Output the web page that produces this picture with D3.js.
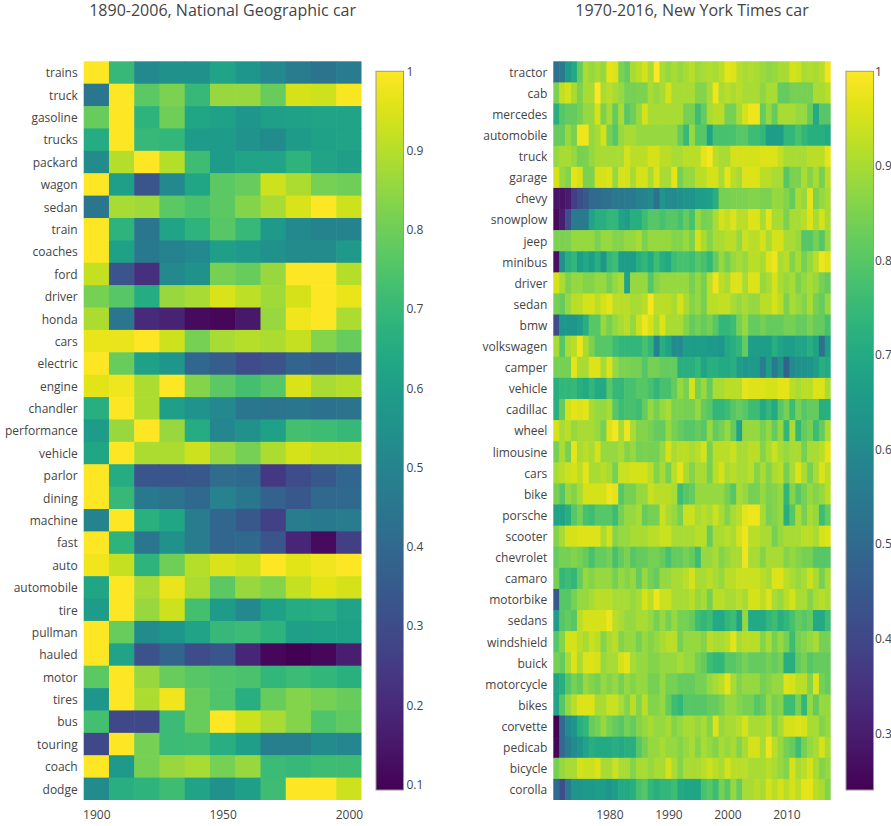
<!DOCTYPE html>
<html><head><meta charset="utf-8">
<script src="https://cdn.jsdelivr.net/npm/d3@7"></script>
<style>
body{margin:0;background:#fff;}
text{font-family:"Open Sans",sans-serif;}
</style>
</head><body>
<svg id="chart" width="891" height="826"></svg>
<script>
// ---------------- DATA ----------------
const ngTitle = "1890-2006, National Geographic car";
const ngWords = ["trains","truck","gasoline","trucks","packard","wagon","sedan","train","coaches","ford","driver","honda","cars","electric","engine","chandler","performance","vehicle","parlor","dining","machine","fast","auto","automobile","tire","pullman","hauled","motor","tires","bus","touring","coach","dodge"];
const ngYears = [1900,1910,1920,1930,1940,1950,1960,1970,1980,1990,2000];
const ngXTicks = [1900,1950,2000];
const ngValues = [
[1.0,0.7,0.52,0.55,0.55,0.62,0.57,0.52,0.47,0.44,0.47],
[0.45,1.0,0.77,0.82,0.7,0.86,0.86,0.79,0.94,0.93,0.99],
[0.79,1.0,0.68,0.8,0.63,0.61,0.57,0.6,0.61,0.62,0.62],
[0.65,1.0,0.7,0.69,0.59,0.59,0.56,0.53,0.59,0.61,0.62],
[0.53,0.9,1.0,0.9,0.72,0.59,0.62,0.62,0.68,0.62,0.6],
[1.0,0.6,0.33,0.52,0.63,0.77,0.79,0.93,0.89,0.81,0.8],
[0.45,0.88,0.87,0.77,0.74,0.77,0.83,0.88,0.95,1.0,0.93],
[1.0,0.68,0.45,0.62,0.68,0.76,0.7,0.58,0.52,0.5,0.5],
[1.0,0.61,0.46,0.49,0.52,0.6,0.58,0.55,0.53,0.53,0.58],
[0.92,0.33,0.22,0.52,0.55,0.81,0.79,0.86,1.0,1.0,0.9],
[0.81,0.76,0.65,0.86,0.88,0.95,0.91,0.87,0.94,1.0,0.97],
[0.89,0.45,0.2,0.18,0.12,0.11,0.15,0.86,0.98,1.0,0.89],
[0.97,0.97,1.0,0.93,0.81,0.88,0.9,0.89,0.92,0.83,0.79],
[1.0,0.79,0.61,0.57,0.39,0.36,0.3,0.32,0.38,0.36,0.38],
[0.96,0.98,0.89,1.0,0.83,0.77,0.73,0.76,0.95,0.88,0.9],
[0.66,1.0,0.89,0.6,0.56,0.52,0.45,0.44,0.45,0.43,0.44],
[0.59,0.86,1.0,0.86,0.65,0.51,0.55,0.61,0.73,0.72,0.7],
[0.63,1.0,0.89,0.89,0.93,0.86,0.81,0.89,0.94,0.92,0.92],
[1.0,0.65,0.33,0.33,0.34,0.41,0.4,0.24,0.3,0.34,0.39],
[1.0,0.7,0.46,0.44,0.4,0.49,0.45,0.37,0.34,0.4,0.4],
[0.5,1.0,0.67,0.63,0.47,0.39,0.34,0.27,0.47,0.46,0.47],
[1.0,0.68,0.45,0.55,0.47,0.39,0.4,0.33,0.19,0.12,0.26],
[0.98,0.92,0.68,0.8,0.9,0.95,0.93,1.0,0.96,0.98,1.0],
[0.63,1.0,0.88,0.97,0.89,0.77,0.86,0.83,0.92,0.96,0.94],
[0.59,1.0,0.86,0.93,0.73,0.59,0.52,0.61,0.65,0.66,0.62],
[1.0,0.79,0.53,0.57,0.62,0.7,0.71,0.68,0.6,0.61,0.61],
[1.0,0.62,0.32,0.38,0.3,0.33,0.19,0.11,0.093,0.11,0.17],
[0.77,1.0,0.86,0.79,0.76,0.75,0.74,0.69,0.71,0.69,0.67],
[0.57,1.0,0.89,0.98,0.79,0.75,0.66,0.79,0.83,0.81,0.79],
[0.73,0.29,0.29,0.71,0.79,1.0,0.93,0.88,0.83,0.75,0.78],
[0.29,1.0,0.81,0.71,0.72,0.66,0.6,0.48,0.48,0.53,0.51],
[1.0,0.58,0.81,0.86,0.88,0.81,0.86,0.71,0.7,0.72,0.72],
[0.53,0.66,0.68,0.72,0.62,0.55,0.6,0.72,1.0,1.0,0.93]
];
const ngColorTicks = [0.1,0.2,0.3,0.4,0.5,0.6,0.7,0.8,0.9,1];

const nytTitle = "1970-2016, New York Times car";
const nytWords = ["tractor","cab","mercedes","automobile","truck","garage","chevy","snowplow","jeep","minibus","driver","sedan","bmw","volkswagen","camper","vehicle","cadillac","wheel","limousine","cars","bike","porsche","scooter","chevrolet","camaro","motorbike","sedans","windshield","buick","motorcycle","bikes","corvette","pedicab","bicycle","corolla"];
const nytYears = [1971,1972,1973,1974,1975,1976,1977,1978,1979,1980,1981,1982,1983,1984,1985,1986,1987,1988,1989,1990,1991,1992,1993,1994,1995,1996,1997,1998,1999,2000,2001,2002,2003,2004,2005,2006,2007,2008,2009,2010,2011,2012,2013,2014,2015,2016,2017];
const nytXTicks = [1980,1990,2000,2010];
const nytValues = [
[0.52,0.55,0.65,0.7,0.82,0.9,0.88,0.9,0.88,0.97,0.96,0.85,0.82,0.9,0.92,0.95,0.9,1.0,0.9,0.88,0.9,0.88,0.9,0.92,0.89,0.9,0.91,0.9,0.92,0.97,0.96,0.92,0.9,0.91,0.9,0.89,0.87,0.88,0.9,0.9,0.95,0.94,0.9,0.91,0.9,0.92,0.98],
[0.85,0.93,0.95,0.9,0.85,0.9,0.9,1.0,0.9,0.92,0.9,0.88,0.84,0.84,0.85,0.85,0.9,0.88,0.9,0.95,0.9,0.9,0.9,0.9,0.86,0.86,0.9,0.98,0.9,0.92,0.9,0.92,0.9,0.9,0.9,0.87,0.9,0.9,0.82,0.82,0.84,0.84,0.84,0.84,0.9,0.9,0.92],
[0.72,0.8,0.82,0.82,0.84,0.88,0.88,0.95,0.85,0.9,0.82,0.9,0.8,0.83,0.88,0.95,0.9,0.9,0.9,0.9,0.9,0.9,0.84,0.84,0.76,0.82,0.9,0.92,0.92,0.84,0.84,0.9,0.95,0.98,0.98,0.82,0.88,0.82,0.9,0.9,0.9,0.88,0.88,0.82,0.7,0.8,0.8],
[0.82,0.82,0.88,0.84,0.98,0.98,0.88,0.9,0.95,0.84,0.8,0.88,0.9,0.9,0.88,0.88,0.88,0.88,0.88,0.88,0.88,0.82,0.75,0.88,0.8,0.8,0.68,0.78,0.78,0.78,0.78,0.8,0.8,0.76,0.76,0.74,0.66,0.66,0.66,0.74,0.74,0.78,0.74,0.72,0.72,0.72,0.7],
[0.88,0.9,0.9,0.88,0.84,0.85,0.88,0.9,0.9,0.9,0.9,0.9,0.95,0.92,0.92,0.92,0.95,0.95,0.92,0.92,0.9,0.9,0.92,0.92,0.92,0.97,0.99,0.92,0.9,0.9,0.95,0.95,0.95,0.95,0.95,0.96,0.96,0.96,0.93,0.9,0.9,0.9,0.9,0.92,0.92,0.92,0.97],
[0.95,0.88,0.86,0.97,0.95,0.85,0.85,0.95,0.95,0.96,0.88,0.95,0.95,0.9,0.95,0.95,0.9,0.96,0.9,0.9,0.97,0.84,0.88,0.88,0.92,0.92,0.95,0.95,0.9,0.97,0.92,0.9,0.96,0.96,0.96,0.92,0.92,0.9,0.9,0.8,0.85,0.85,0.9,0.86,0.9,0.84,0.92],
[0.28,0.28,0.3,0.38,0.42,0.45,0.5,0.5,0.52,0.52,0.54,0.54,0.55,0.55,0.58,0.58,0.6,0.52,0.64,0.6,0.6,0.62,0.63,0.63,0.66,0.66,0.67,0.72,0.84,0.84,0.85,0.85,0.85,0.86,0.86,0.85,0.85,0.88,0.88,0.86,0.82,0.9,0.88,0.97,0.85,0.88,0.9],
[0.26,0.3,0.42,0.55,0.55,0.55,0.68,0.72,0.72,0.74,0.74,0.68,0.66,0.72,0.72,0.76,0.8,0.8,0.78,0.8,0.8,0.78,0.82,0.78,0.88,0.84,0.85,0.9,0.95,0.93,0.96,0.92,0.92,0.96,0.96,0.9,0.97,0.9,0.9,0.85,0.9,0.9,0.92,0.96,0.9,0.95,0.9],
[0.85,0.85,0.85,0.88,0.88,0.88,0.88,0.85,0.88,0.88,0.86,0.86,0.88,0.88,0.9,0.85,0.88,0.88,0.88,0.88,0.86,0.86,0.88,0.85,0.95,0.9,0.86,0.9,0.9,0.92,0.92,0.88,0.94,0.92,0.92,0.95,0.9,0.95,0.95,0.9,0.9,0.88,0.8,0.8,0.84,0.8,0.88],
[0.27,0.62,0.72,0.74,0.66,0.7,0.66,0.72,0.64,0.74,0.76,0.66,0.66,0.66,0.72,0.74,0.7,0.76,0.72,0.7,0.76,0.78,0.78,0.76,0.8,0.78,0.74,0.82,0.88,0.84,0.88,0.9,0.88,0.92,0.92,0.9,0.96,0.98,0.9,0.92,0.86,0.9,0.84,0.88,0.92,0.98,0.96],
[0.95,0.9,0.85,0.88,0.88,0.86,0.86,0.88,0.88,0.84,0.88,0.9,0.68,0.88,0.88,0.88,0.8,0.86,0.88,0.88,0.88,0.88,0.88,0.84,0.88,0.84,0.92,0.98,0.92,0.9,0.96,0.96,0.9,0.96,0.96,0.88,0.9,0.95,0.9,0.88,0.9,0.85,0.88,0.9,0.88,0.84,0.82],
[0.84,0.82,0.88,0.92,0.92,0.95,0.95,0.92,0.95,0.97,0.92,0.92,0.92,0.9,0.9,0.92,0.99,0.92,0.92,0.92,0.9,0.95,0.9,0.86,0.88,0.84,0.92,0.92,0.93,0.93,0.9,0.88,0.9,0.88,0.88,0.92,0.92,0.95,0.92,0.85,0.9,0.88,0.86,0.9,0.84,0.82,0.88],
[0.42,0.64,0.64,0.64,0.66,0.72,0.8,0.8,0.88,0.84,0.88,0.9,0.92,0.88,0.94,0.98,0.95,0.9,0.96,0.9,0.9,0.9,0.86,0.82,0.84,0.82,0.84,0.8,0.74,0.74,0.76,0.84,0.88,0.82,0.82,0.84,0.82,0.82,0.82,0.84,0.84,0.82,0.82,0.85,0.82,0.82,0.78],
[0.9,0.8,0.9,0.92,0.98,0.9,0.85,0.8,0.8,0.8,0.76,0.74,0.74,0.74,0.74,0.78,0.74,0.58,0.72,0.68,0.6,0.6,0.66,0.66,0.66,0.66,0.65,0.65,0.64,0.7,0.72,0.74,0.82,0.66,0.66,0.66,0.66,0.72,0.68,0.66,0.66,0.68,0.68,0.72,0.68,0.52,0.66],
[0.84,0.84,0.84,0.97,0.9,0.9,0.96,0.96,0.9,0.96,0.88,0.85,0.85,0.84,0.84,0.8,0.84,0.84,0.82,0.82,0.82,0.72,0.72,0.72,0.74,0.68,0.72,0.72,0.7,0.7,0.72,0.66,0.64,0.65,0.65,0.56,0.66,0.55,0.62,0.48,0.6,0.62,0.62,0.63,0.66,0.72,0.7],
[0.72,0.74,0.74,0.75,0.72,0.7,0.74,0.7,0.7,0.8,0.75,0.74,0.78,0.78,0.8,0.8,0.78,0.74,0.78,0.78,0.82,0.88,0.84,0.95,0.84,0.88,0.82,0.9,0.9,0.92,0.92,0.92,0.97,0.96,0.96,0.96,0.95,0.95,0.97,0.97,0.92,0.9,0.92,0.92,0.96,0.96,0.9],
[0.72,0.82,0.95,0.97,0.96,0.97,0.9,0.88,0.88,0.9,0.8,0.76,0.78,0.78,0.76,0.82,0.88,0.84,0.88,0.9,0.85,0.85,0.84,0.84,0.88,0.82,0.8,0.74,0.74,0.76,0.8,0.82,0.8,0.76,0.76,0.7,0.74,0.7,0.8,0.84,0.76,0.84,0.8,0.82,0.82,0.72,0.72],
[0.95,0.9,0.92,0.88,0.9,0.9,0.9,0.88,0.84,0.96,0.99,0.9,0.98,0.9,0.86,0.86,0.84,0.82,0.82,0.88,0.84,0.82,0.8,0.8,0.82,0.8,0.88,0.82,0.84,0.88,0.82,0.68,0.88,0.88,0.88,0.84,0.88,0.82,0.88,0.74,0.9,0.74,0.82,0.84,0.76,0.82,0.9],
[0.84,0.9,0.84,0.97,0.9,0.92,0.9,0.95,0.88,0.88,0.88,0.9,0.86,0.88,0.84,0.85,0.84,0.84,0.88,0.95,0.9,0.92,0.92,0.9,0.92,0.95,0.84,0.92,0.92,0.92,0.94,0.9,0.9,0.92,0.92,0.86,0.9,0.94,0.9,0.88,0.9,0.9,0.84,0.9,0.9,0.92,0.97],
[0.9,0.92,0.94,0.95,0.92,0.97,0.9,0.9,0.92,0.9,0.84,0.94,0.94,0.95,0.95,0.95,0.92,0.86,0.9,0.84,0.92,0.97,0.9,0.86,0.9,0.9,0.84,0.92,0.95,0.9,0.92,0.9,0.9,0.92,0.86,0.9,0.86,0.9,0.92,0.84,0.9,0.96,0.9,0.84,0.9,0.96,0.92],
[0.84,0.8,0.88,0.86,0.9,0.95,0.95,0.95,0.95,0.98,0.97,0.8,0.84,0.84,0.88,0.88,0.94,0.92,0.92,0.92,0.9,0.76,0.8,0.82,0.88,0.88,0.88,0.88,0.88,0.84,0.8,0.9,0.88,0.84,0.84,0.88,0.85,0.86,0.88,0.74,0.86,0.8,0.84,0.88,0.86,0.88,0.92],
[0.68,0.68,0.72,0.8,0.84,0.78,0.76,0.8,0.8,0.8,0.76,0.84,0.88,0.88,0.9,0.82,0.84,0.84,0.94,0.9,0.88,0.84,0.94,0.94,0.9,0.92,0.9,0.94,0.9,0.86,0.9,0.92,0.97,0.98,0.98,0.9,0.84,0.86,0.88,0.72,0.8,0.9,0.84,0.9,0.88,0.76,0.82],
[0.86,0.9,0.95,0.95,0.96,0.96,0.96,0.96,0.9,0.95,0.86,0.88,0.88,0.9,0.9,0.9,0.92,0.92,0.94,0.94,0.9,0.9,0.9,0.9,0.92,0.92,0.82,0.9,0.9,0.92,0.9,0.95,0.98,0.92,0.92,0.9,0.9,0.84,0.88,0.9,0.9,0.9,0.92,0.92,0.9,0.95,0.96],
[0.82,0.84,0.84,0.86,0.84,0.82,0.78,0.82,0.82,0.84,0.78,0.82,0.85,0.8,0.82,0.82,0.84,0.84,0.82,0.78,0.82,0.82,0.84,0.82,0.76,0.88,0.88,0.9,0.86,0.88,0.9,0.9,0.98,0.9,0.9,0.86,0.9,0.9,0.9,0.86,0.88,0.86,0.84,0.84,0.8,0.8,0.8],
[0.84,0.74,0.76,0.74,0.82,0.88,0.86,0.88,0.88,0.88,0.84,0.88,0.86,0.88,0.82,0.88,0.84,0.82,0.88,0.88,0.9,0.9,0.92,0.95,0.9,0.9,0.92,0.9,0.88,0.92,0.92,0.94,0.94,0.94,0.94,0.92,0.9,0.96,0.96,0.92,0.9,0.88,0.9,0.94,0.9,0.84,0.9],
[0.45,0.8,0.8,0.84,0.88,0.88,0.9,0.92,0.92,0.92,0.9,0.9,0.9,0.88,0.9,0.95,0.92,0.98,0.94,0.94,0.9,0.9,0.9,0.92,0.88,0.9,0.84,0.92,0.92,0.9,0.9,0.92,0.9,0.95,0.95,0.92,0.96,0.9,0.88,0.92,0.95,0.9,0.9,0.86,0.9,0.92,0.9],
[0.66,0.8,0.82,0.8,0.92,0.95,0.95,0.95,0.95,0.98,0.92,0.9,0.88,0.88,0.9,0.9,0.88,0.84,0.88,0.84,0.88,0.84,0.84,0.82,0.76,0.74,0.76,0.7,0.7,0.74,0.76,0.68,0.88,0.7,0.7,0.7,0.74,0.76,0.72,0.74,0.78,0.82,0.8,0.82,0.7,0.7,0.76],
[0.8,0.86,0.95,0.95,0.92,0.9,0.94,0.92,0.86,0.9,0.92,0.86,0.88,0.88,0.84,0.88,0.86,0.88,0.9,0.92,0.92,0.84,0.88,0.88,0.88,0.86,0.92,0.9,0.9,0.92,0.97,0.9,0.92,0.92,0.92,0.86,0.9,0.84,0.88,0.84,0.76,0.84,0.86,0.88,0.9,0.84,0.84],
[0.84,0.82,0.9,0.96,0.9,0.96,0.96,0.95,0.88,0.9,0.9,0.95,0.97,0.9,0.88,0.88,0.86,0.86,0.88,0.88,0.88,0.9,0.88,0.88,0.84,0.82,0.76,0.74,0.74,0.8,0.8,0.82,0.84,0.82,0.82,0.82,0.84,0.82,0.84,0.72,0.72,0.82,0.84,0.8,0.82,0.82,0.82],
[0.68,0.72,0.8,0.84,0.82,0.88,0.86,0.84,0.88,0.86,0.88,0.84,0.88,0.86,0.88,0.88,0.84,0.84,0.88,0.84,0.84,0.82,0.82,0.82,0.84,0.84,0.88,0.9,0.92,0.97,0.9,0.86,0.88,0.88,0.88,0.84,0.86,0.88,0.88,0.96,0.95,0.92,0.92,0.86,0.96,0.84,0.82],
[0.68,0.8,0.88,0.92,0.96,0.96,0.96,0.9,0.9,0.94,0.94,0.9,0.86,0.92,0.86,0.92,0.86,0.86,0.88,0.82,0.76,0.74,0.8,0.8,0.8,0.8,0.82,0.82,0.84,0.88,0.88,0.86,0.84,0.84,0.8,0.82,0.88,0.84,0.86,0.76,0.76,0.84,0.74,0.88,0.82,0.88,0.88],
[0.24,0.5,0.6,0.64,0.72,0.74,0.82,0.84,0.88,0.84,0.82,0.8,0.84,0.82,0.86,0.88,0.9,0.88,0.88,0.9,0.86,0.88,0.9,0.9,0.88,0.9,0.86,0.96,0.88,0.9,0.9,0.92,0.95,0.9,0.9,0.9,0.92,0.86,0.9,0.95,0.95,0.96,0.95,0.9,0.9,0.86,0.88],
[0.25,0.5,0.56,0.6,0.64,0.68,0.72,0.7,0.7,0.7,0.72,0.7,0.72,0.72,0.8,0.84,0.88,0.88,0.9,0.88,0.88,0.86,0.88,0.9,0.86,0.9,0.88,0.86,0.9,0.88,0.9,0.86,0.9,0.95,0.95,0.9,0.98,0.92,0.88,0.84,0.82,0.76,0.84,0.88,0.9,0.95,0.9],
[0.84,0.88,0.9,0.9,0.95,0.94,0.94,0.96,0.9,0.9,0.94,0.9,0.9,0.86,0.9,0.9,0.88,0.9,0.9,0.95,0.9,0.86,0.9,0.9,0.9,0.92,0.94,0.92,0.9,0.95,0.92,0.92,0.92,0.9,0.9,0.9,0.92,0.9,0.88,0.86,0.95,0.9,0.92,0.95,0.9,0.86,0.88],
[0.5,0.42,0.55,0.64,0.64,0.65,0.65,0.66,0.66,0.64,0.66,0.7,0.7,0.72,0.78,0.8,0.74,0.72,0.74,0.74,0.76,0.7,0.69,0.69,0.69,0.78,0.8,0.76,0.84,0.8,0.88,0.82,0.9,0.9,0.92,0.9,0.95,0.92,0.95,0.92,0.95,0.92,0.97,0.97,0.92,0.9,0.86]
];
const nytColorTicks = [0.3,0.4,0.5,0.6,0.7,0.8,0.9,1];

// ---------------- DRAWING ----------------
const svg = d3.select("#chart");
const textColor = "#444";

function drawPanel(cfg) {
  const g = svg.append("g");
  const x = d3.scaleLinear()
    .domain([cfg.years[0] - cfg.step / 2, cfg.years[cfg.years.length - 1] + cfg.step / 2])
    .range([cfg.left, cfg.right]);
  const y = d3.scaleBand().domain(cfg.words).range([cfg.top, cfg.bottom]);
  const ext = d3.extent(cfg.values.flat());
  const color = d3.scaleSequential(d3.interpolateViridis).domain(ext);
  const cw = x(cfg.years[0] + cfg.step) - x(cfg.years[0]);

  const cells = [];
  cfg.values.forEach((row, i) => row.forEach((v, j) => cells.push({w: cfg.words[i], yr: cfg.years[j], v})));
  g.append("g").selectAll("rect").data(cells).join("rect")
    .attr("x", d => x(d.yr) - cw / 2)
    .attr("y", d => y(d.w))
    .attr("width", d => (d.yr === cfg.years[cfg.years.length - 1]) ? cw : cw + 0.6)
    .attr("height", d => (d.w === cfg.words[cfg.words.length - 1]) ? y.bandwidth() : y.bandwidth() + 0.6)
    .attr("fill", d => color(d.v));

  // title
  g.append("text")
    .attr("x", (cfg.left + cfg.right) / 2).attr("y", 16)
    .attr("text-anchor", "middle").attr("font-size", 16).attr("fill", textColor)
    .text(cfg.title);

  // y axis labels
  const ya = d3.axisLeft(y).tickSize(0).tickPadding(6);
  const yg = g.append("g").attr("transform", `translate(${cfg.left},1)`).call(ya);
  yg.select(".domain").remove();
  yg.selectAll("text").attr("font-size", 12).attr("fill", textColor).attr("font-family", "'Open Sans',sans-serif");

  // x axis labels
  const xa = d3.axisBottom(x).tickValues(cfg.xticks).tickFormat(d3.format("d")).tickSize(0).tickPadding(10);
  const xg = g.append("g").attr("transform", `translate(0,${cfg.bottom})`).call(xa);
  xg.select(".domain").remove();
  xg.selectAll("text").attr("font-size", 12).attr("fill", textColor).attr("font-family", "'Open Sans',sans-serif");

  // colorbar
  const cbTop = cfg.top + 10, cbBot = cfg.bottom - 10;
  const cbScale = d3.scaleLinear().domain(ext).range([cbBot, cbTop]);
  const gid = "grad" + cfg.id;
  const grad = svg.append("defs").append("linearGradient").attr("id", gid)
    .attr("x1", 0).attr("y1", 1).attr("x2", 0).attr("y2", 0);
  d3.range(0, 1.0001, 0.05).forEach(t => grad.append("stop").attr("offset", t).attr("stop-color", d3.interpolateViridis(t)));
  g.append("rect").attr("x", cfg.cbx).attr("y", cbTop).attr("width", 27.5).attr("height", cbBot - cbTop)
    .attr("fill", `url(#${gid})`).attr("stroke", "#999").attr("stroke-width", 1);
  const cba = d3.axisRight(cbScale).tickValues(cfg.cticks).tickFormat(d3.format("~g")).tickSize(0).tickPadding(cfg.cbpad);
  const cg = g.append("g").attr("transform", `translate(${cfg.cbx + 27.5},0)`).call(cba);
  cg.select(".domain").remove();
  cg.selectAll("text").attr("font-size", 12).attr("fill", textColor).attr("font-family", "'Open Sans',sans-serif");
}

drawPanel({id: "ng", title: ngTitle, words: ngWords, years: ngYears, step: 10, values: ngValues,
  xticks: ngXTicks, cticks: ngColorTicks, left: 83.7, right: 361.5, top: 61.3, bottom: 800, cbx: 376, cbpad: 3});
drawPanel({id: "nyt", title: nytTitle, words: nytWords, years: nytYears, step: 1, values: nytValues,
  xticks: nytXTicks, cticks: nytColorTicks, left: 553.3, right: 830.7, top: 61.3, bottom: 800, cbx: 846, cbpad: 1.5});
</script>
</body></html>
